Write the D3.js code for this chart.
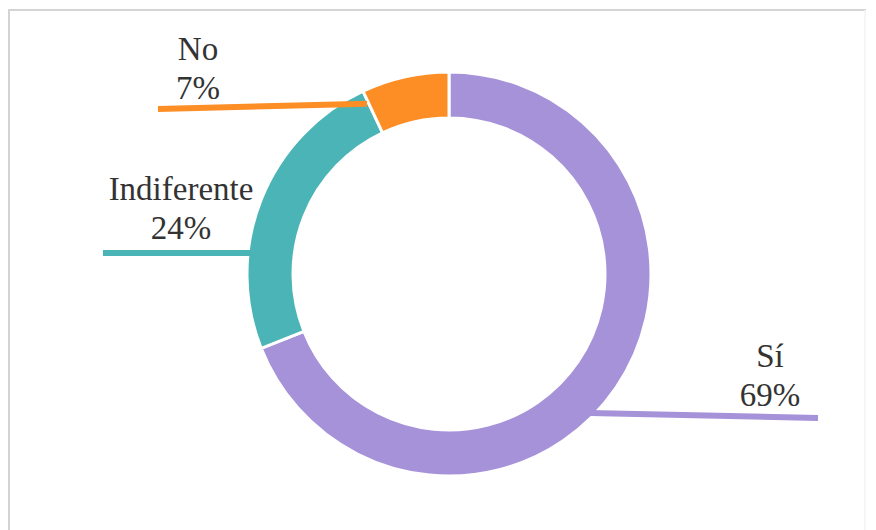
<!DOCTYPE html>
<html>
<head>
<meta charset="utf-8">
<script src="https://cdn.jsdelivr.net/npm/d3@7"></script>
<style>
  html, body { margin: 0; padding: 0; background: #ffffff; }
  svg { display: block; }
  .lbl { font-family: "Liberation Serif", Tinos, "Times New Roman", "DejaVu Serif", serif; }
</style>
</head>
<body>
<script>
// Survey answers and their shares (%)
const categories = ["Sí", "Indiferente", "No"];
const values = [69, 24, 7];
const labels = ["69%", "24%", "7%"];

const W = 876, H = 530;
const cx = 449, cy = 274;
const outerR = 202, innerR = 156;

const color = d3.scaleOrdinal()
  .domain(categories)
  .range(["#a692d9", "#4ab4b7", "#fd8d25"]);

const svg = d3.select("body").append("svg")
  .attr("width", W).attr("height", H);

// frame
svg.append("path")
  .attr("d", `M9,${H} L9,10 L866,10`)
  .attr("fill", "none").attr("stroke", "#d4d4d4").attr("stroke-width", 2);
svg.append("line")
  .attr("x1", 865).attr("x2", 865).attr("y1", 10).attr("y2", H)
  .attr("stroke", "#f3f3f3").attr("stroke-width", 1.5);

const pie = d3.pie().sort(null).value(d => d.v);
const arcs = pie(categories.map((c, i) => ({ c, v: values[i], l: labels[i] })));

const arc = d3.arc().innerRadius(innerR).outerRadius(outerR);

const g = svg.append("g").attr("transform", `translate(${cx},${cy})`);

g.selectAll("path.slice")
  .data(arcs)
  .join("path")
  .attr("class", "slice")
  .attr("d", arc)
  .attr("fill", d => color(d.data.c))
  .attr("stroke", "#ffffff")
  .attr("stroke-width", 3);

// label layout: where the leader touches the ring (fraction along slice, radius),
// where it ends outside, and where the two text lines sit
const layout = [
  { t: 0.542, r: 198, ex: 818, ey: 418, tx: 770, ty: 367 },
  { t: 0.32, r: 200, ex: 103, ey: 253, tx: 181, ty: 200 },
  { t: -0.02, r: 189, ex: 158, ey: 109, tx: 198, ty: 60 }
];

function anchor(d, L) {
  const a = d.startAngle + (d.endAngle - d.startAngle) * L.t;
  return [cx + L.r * Math.sin(a), cy - L.r * Math.cos(a)];
}

svg.selectAll("line.leader")
  .data(arcs)
  .join("line")
  .attr("class", "leader")
  .each(function (d, i) {
    const p = anchor(d, layout[i]);
    d3.select(this)
      .attr("x1", p[0]).attr("y1", p[1])
      .attr("x2", layout[i].ex).attr("y2", layout[i].ey);
  })
  .attr("stroke", d => color(d.data.c))
  .attr("stroke-width", 6);

const txt = svg.selectAll("text.lbl")
  .data(arcs)
  .join("text")
  .attr("class", "lbl")
  .attr("text-anchor", "middle")
  .attr("font-size", 33)
  .attr("fill", "#333333");

txt.append("tspan")
  .attr("x", (d, i) => layout[i].tx)
  .attr("y", (d, i) => layout[i].ty)
  .text(d => d.data.c);
txt.append("tspan")
  .attr("x", (d, i) => layout[i].tx)
  .attr("y", (d, i) => layout[i].ty + 39)
  .text(d => d.data.l);
</script>
</body>
</html>
